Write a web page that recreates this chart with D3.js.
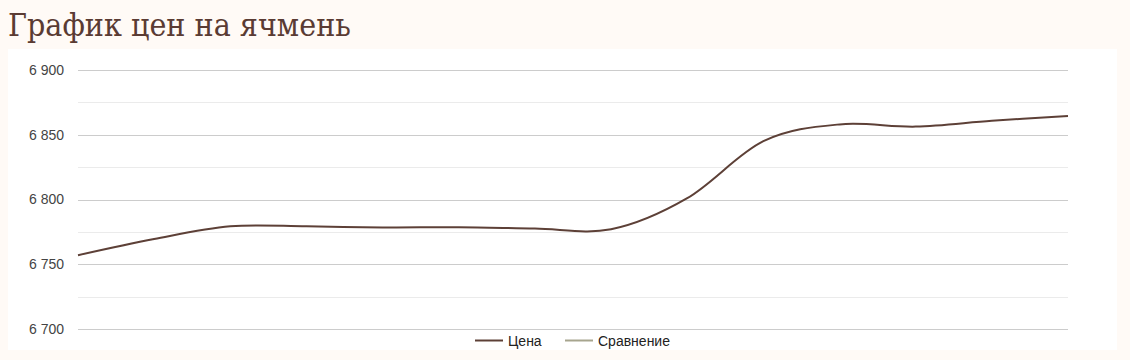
<!DOCTYPE html>
<meta charset="utf-8">
<head>
  <title>График цен на ячмень</title>
  <script src="https://d3js.org/d3.v7.min.js"></script>
  <style>
    body {
      margin: 0;
      background: #fffaf6;
      font-family: Arial, "Liberation Sans", sans-serif;
    }
    .title {
      font-family: "DejaVu Serif", serif;
      fill: #5a3b33;
    }
    .grid-major line { stroke: #cccccc; stroke-width: 1; }
    .grid-minor line { stroke: #ebebeb; stroke-width: 1; }
    .tick-label { fill: #444; font-size: 14px; }
    .legend text { fill: #222; font-size: 14px; }
  </style>
</head>
<body>
<script>
  // Chart size
  var width = 1130;
  var height = 360;

  // Data
  var points = [1, 2, 3, 4, 5, 6, 7, 8, 9, 10, 11, 12, 13, 14];
  var prices = [6757, 6769.5, 6779.3, 6779.3, 6778.4, 6778.6, 6777.6, 6777, 6801, 6845, 6858, 6856.3, 6860.8, 6864.5];
  var yTicks = [6700, 6750, 6800, 6850, 6900];
  var yMinorTicks = [6725, 6775, 6825, 6875];
  var seriesNames = ["Цена", "Сравнение"];
  var seriesColors = ["#5d4037", "#a7a58e"];

  var plot = { left: 78, right: 1068, top: 70, bottom: 329 };

  var svg = d3.select("body").append("svg")
    .attr("width", width)
    .attr("height", height);

  // White chart panel
  svg.append("rect")
    .attr("x", 8).attr("y", 49)
    .attr("width", 1109).attr("height", 301)
    .attr("fill", "#ffffff");

  // Title: squeeze a bit horizontally so it has the same width as the original
  var title = svg.append("text")
    .attr("class", "title")
    .style("font-size", "31px")
    .text("График цен на ячмень");
  var tw = title.node().getComputedTextLength();
  title.attr("transform", "translate(8,36) scale(" + (343 / tw).toFixed(4) + ",1)");

  var x = d3.scaleLinear()
    .domain(d3.extent(points))
    .range([plot.left, plot.right]);

  var y = d3.scaleLinear()
    .domain([6700, 6900])
    .range([plot.bottom, plot.top]);

  // Minor gridlines
  svg.append("g").attr("class", "grid-minor")
    .selectAll("line")
    .data(yMinorTicks)
    .enter().append("line")
    .attr("x1", plot.left).attr("x2", plot.right)
    .attr("y1", function(d) { return Math.round(y(d)) + 0.5; })
    .attr("y2", function(d) { return Math.round(y(d)) + 0.5; });

  // Major gridlines
  svg.append("g").attr("class", "grid-major")
    .selectAll("line")
    .data(yTicks)
    .enter().append("line")
    .attr("x1", plot.left).attr("x2", plot.right)
    .attr("y1", function(d) { return Math.round(y(d)) + 0.5; })
    .attr("y2", function(d) { return Math.round(y(d)) + 0.5; });

  // Tick labels, space as thousands separator
  svg.append("g")
    .selectAll("text")
    .data(yTicks)
    .enter().append("text")
    .attr("class", "tick-label")
    .attr("x", 64)
    .attr("y", function(d) { return y(d); })
    .attr("dy", "0.35em")
    .attr("text-anchor", "end")
    .text(function(d) { return d3.format(",")(d).replace(",", " "); });

  // Price line
  var line = d3.line()
    .x(function(d, i) { return x(points[i]); })
    .y(function(d) { return y(d); })
    .curve(d3.curveCardinal.tension(0));

  svg.append("path")
    .datum(prices)
    .attr("fill", "none")
    .attr("stroke", seriesColors[0])
    .attr("stroke-width", 2)
    .attr("d", line);

  // Legend
  var legend = svg.append("g").attr("class", "legend");
  var legendX = [475, 565];
  seriesNames.forEach(function(name, i) {
    legend.append("line")
      .attr("x1", legendX[i]).attr("x2", legendX[i] + 28)
      .attr("y1", 340.5).attr("y2", 340.5)
      .attr("stroke", seriesColors[i])
      .attr("stroke-width", 2);
    legend.append("text")
      .attr("x", legendX[i] + 33)
      .attr("y", 341)
      .attr("dy", "0.35em")
      .text(name);
  });
</script>
</body>
</html>
